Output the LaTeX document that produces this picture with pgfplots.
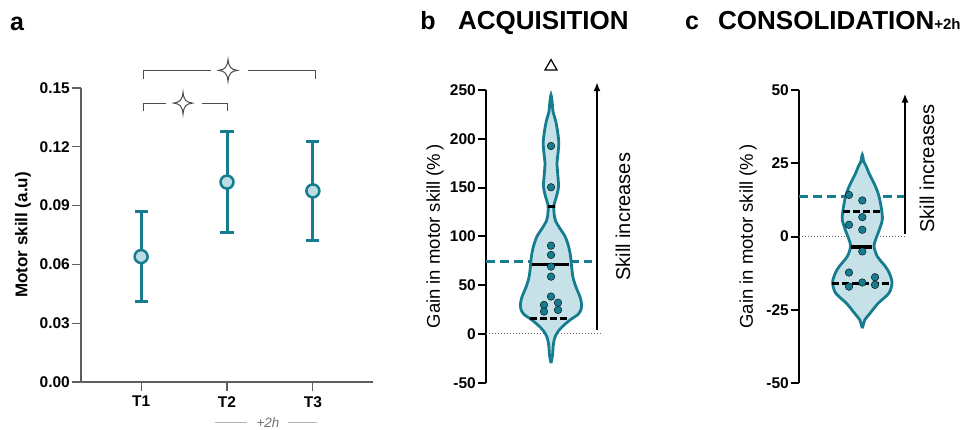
\documentclass[border=0pt]{standalone}
\usepackage{fontspec}
\setmainfont{Liberation Sans}
\usepackage{pgfplots}
\pgfplotsset{compat=1.18}
\usetikzlibrary{arrows.meta}

\definecolor{tealc}{RGB}{22,124,143}
\definecolor{tealfill}{RGB}{198,226,232}
\definecolor{markfill}{RGB}{186,220,226}
\definecolor{axgray}{RGB}{95,95,95}

% four-pointed significance star
\pgfdeclareplotmark{sparkle}{%
  \pgfpathmoveto{\pgfpoint{0pt}{11pt}}%
  \pgfpathcurveto{\pgfpoint{0.8pt}{3pt}}{\pgfpoint{3pt}{0.8pt}}{\pgfpoint{9.5pt}{0pt}}%
  \pgfpathcurveto{\pgfpoint{3pt}{-0.8pt}}{\pgfpoint{0.8pt}{-3pt}}{\pgfpoint{0pt}{-11pt}}%
  \pgfpathcurveto{\pgfpoint{-0.8pt}{-3pt}}{\pgfpoint{-3pt}{-0.8pt}}{\pgfpoint{-9.5pt}{0pt}}%
  \pgfpathcurveto{\pgfpoint{-3pt}{0.8pt}}{\pgfpoint{-0.8pt}{3pt}}{\pgfpoint{0pt}{11pt}}%
  \pgfpathclose
  \pgfusepathqfillstroke
}

\pgfplotsset{
  violinax/.style={
    scale only axis, width=120pt, clip=false,
    xmin=0, xmax=120,
    axis x line=none, axis y line=left,
    axis line style={-, line width=2pt, black},
    ytick style={line width=2pt, black},
    tick align=outside, major tick length=8pt,
    yticklabel style={font=\bfseries\fontsize{15.5}{18}\selectfont, inner sep=2pt},
    ylabel={Gain in motor skill (\%\,)},
    ylabel style={font=\fontsize{18.5}{22}\selectfont,
      at={(axis description cs:-0.425,0.5)}, anchor=center},
  },
  quart/.style={black, line width=3pt, dash pattern=on 7pt off 3pt},
  med/.style={black, line width=3.5pt},
  meanline/.style={tealc, line width=3pt, dash pattern=on 9pt off 5pt},
  dots/.style={only marks, mark=*, mark size=3.8pt, mark options={fill=tealc, draw=none}},
  violinshape/.style={smooth, tension=0.5, draw=tealc, line width=2.8pt, fill=tealfill},
  arrowup/.style={black, line width=2pt, -{Latex[length=9pt,width=7pt]}},
}

\begin{document}
\begin{tikzpicture}
\path[use as bounding box] (0pt,0pt) rectangle (969pt,-429pt);

% ---------------- panel a
\begin{axis}[
  at={(81pt,-382pt)}, anchor=south west,
  scale only axis, width=292pt, height=294pt,
  xmin=0.3, xmax=3.7, ymin=0, ymax=0.15,
  clip=false,
  axis x line=bottom, axis y line=left,
  axis line style={-, line width=1.2pt, axgray},
  tick style={line width=1.2pt, axgray},
  tick align=outside, major tick length=9pt,
  xtick={1,2,3}, xticklabels={T1,T2,T3},
  xticklabel style={yshift=-3pt},
  ytick={0,0.03,0.06,0.09,0.12,0.15},
  yticklabels={0.00,0.03,0.06,0.09,0.12,0.15},
  ticklabel style={font=\bfseries\fontsize{15.5}{18}\selectfont, inner sep=2pt},
  ylabel={Motor skill (a.u)},
  ylabel style={font=\bfseries\fontsize{17}{20}\selectfont,
    at={(axis description cs:-0.199,0.5)}, anchor=center},
]
\addplot[only marks, mark=none,
  error bars/.cd, y dir=both, y explicit,
  error bar style={line width=3pt, tealc},
  error mark options={rotate=90, mark size=6.5pt, line width=3pt, tealc}]
  coordinates {(1,0.0640) +- (0,0.0230) (2,0.1020) +- (0,0.0257) (3,0.0975) +- (0,0.0251)};
\addplot[only marks, mark=*, mark size=6.5pt,
  mark options={fill=markfill, draw=tealc, line width=2.5pt}]
  coordinates {(1,0.0640) (2,0.1020) (3,0.0975)};
% significance brackets
\addplot[black!70, line width=1pt] coordinates {(1.023,0.1546) (1.023,0.1588) (1.814,0.1588)};
\addplot[black!70, line width=1pt] coordinates {(2.245,0.1588) (3.025,0.1588) (3.025,0.1546)};
\addplot[black!70, line width=1pt] coordinates {(1.023,0.1383) (1.023,0.1423) (1.290,0.1423)};
\addplot[black!70, line width=1pt] coordinates {(1.709,0.1423) (2.000,0.1423) (2.000,0.1383)};
\addplot[only marks, mark=sparkle, mark options={fill=white, draw=black!70, line width=1pt}]
  coordinates {(2.012,0.1590) (1.488,0.1423)};
% +2h note under T2-T3
\draw[black!30, line width=1pt] (axis cs:1.86,-0.0209) -- (axis cs:2.233,-0.0209);
\draw[black!30, line width=1pt] (axis cs:2.71,-0.0209) -- (axis cs:3.048,-0.0209);
\node[text=black!55, font=\itshape\fontsize{13.5}{15}\selectfont] at (axis cs:2.477,-0.0209) {+2h};
\end{axis}

% ---------------- panel b
\begin{axis}[violinax,
  at={(486pt,-382.7pt)}, anchor=south west, height=292.7pt,
  ymin=-50, ymax=250,
  ytick={-50,0,50,100,150,200,250},
  yticklabels={-50,0,50,100,150,200,250},
]
\addplot[black!60, dotted, line width=1pt] coordinates {(0,0) (117,0)};
\addplot[meanline] coordinates {(0,74.1) (105.7,74.1)};
\addplot[violinshape] coordinates {
  (65,-30) (66.5,-22) (67.2,-12) (68.5,-5) (70.5,0) (74,5) (79,10) (85,15)
  (92,20) (95,25) (95.5,31) (94,38) (90,48) (87,58) (85.5,70) (84.5,80)
  (82.5,90) (79,100) (74,108) (69.5,116) (68,124) (68,132) (70.5,141)
  (72.5,151) (71.8,163) (71,175) (72,185) (72.8,196) (71.5,208) (69.5,219)
  (67,228) (66.3,236) (65,245)
  (63.7,236) (63,228) (60.5,219) (58.5,208) (57.2,196) (58,185) (59,175)
  (58.2,163) (57.5,151) (59.5,141) (62,132) (62,124) (60.5,116) (56,108)
  (51,100) (47.5,90) (45.5,80) (44.5,70) (43,58) (40,48) (36,38) (34.5,31)
  (35,25) (38,20) (45,15) (51,10) (56,5) (59.5,0) (61.5,-5) (62.8,-12)
  (63.5,-22) (65,-30)
};
\addplot[dots] coordinates {
  (65,192.6) (65,150.3) (65,90.5) (65,81) (65,69) (65,58.7) (65,38.3)
  (58,29.7) (72,32) (58,22.9) (72,24.6)
};
\addplot[quart] coordinates {(44,16) (83,16)};
\addplot[black, line width=3pt] coordinates {(62,131) (69,131)};
\addplot[med] coordinates {(45.7,71.4) (83.3,71.4)};
\addplot[only marks, mark=triangle, mark size=7pt,
  mark options={black, line width=1.2pt}] coordinates {(65,274)};
\addplot[arrowup] coordinates {(111,4) (111,258)};
\node[rotate=90, font=\fontsize{20}{24}\selectfont] at (axis cs:137,120) {Skill increases};
\end{axis}

% ---------------- panel c
\begin{axis}[violinax,
  at={(799pt,-383pt)}, anchor=south west, height=293pt,
  ymin=-50, ymax=50,
  ytick={-50,-25,0,25,50},
  yticklabels={-50,-25,0,25,50},
]
\addplot[black!60, dotted, line width=1pt] coordinates {(0,0) (106,0)};
\addplot[meanline] coordinates {(0,13.65) (106,13.65)};
\addplot[violinshape] coordinates {
  (63.3,-31.3) (64.8,-29.5) (65.8,-28.4) (70.8,-26.3) (79.1,-22.8) (90,-19.3)
  (93,-15.7) (90.3,-12.5) (86.3,-10.2) (78.3,-6.8) (75,-3.4) (76.6,-1.1)
  (80.3,2.3) (83.3,5.7) (82.6,9.1) (80,13.7) (76.6,17) (70,21.6) (67.3,23.9)
  (64.8,25.5) (63.3,27.9)
  (61.8,25.5) (59.3,23.9) (56.6,21.6) (50,17) (46.6,13.7) (44,9.1) (43.3,5.7)
  (46.3,2.3) (50,-1.1) (51.6,-3.4) (48.3,-6.8) (40.3,-10.2) (36.3,-12.5)
  (33.6,-15.7) (36.6,-19.3) (47.5,-22.8) (55.8,-26.3) (60.8,-28.4)
  (61.8,-29.5) (63.3,-31.3)
};
\addplot[dots] coordinates {
  (50,14.2) (63.3,12.3) (63.3,6.6) (50,4.0) (63.3,2.3) (63.3,-5.1)
  (50,-12.3) (76,-13.9) (63.3,-15.7) (76,-16.5) (50,-17.1)
};
\addplot[quart] coordinates {(44.3,8.5) (82,8.5)};
\addplot[med] coordinates {(52,-3.6) (73.3,-3.6)};
\addplot[quart] coordinates {(33.3,-15.9) (90,-15.9)};
\addplot[arrowup] coordinates {(106,0.9) (106,48.8)};
\node[rotate=90, font=\fontsize{20}{24}\selectfont] at (axis cs:128,23.2) {Skill increases};
\end{axis}

% ---------------- panel titles
\node[anchor=base, font=\bfseries\fontsize{25}{30}\selectfont] at (17pt,-30pt) {a};
\node[anchor=base, font=\bfseries\fontsize{25}{30}\selectfont] at (428pt,-29pt) {b};
\node[anchor=base west, inner sep=0pt, font=\bfseries\fontsize{26}{30}\selectfont] at (458pt,-29pt) {ACQUISITION};
\node[anchor=base, font=\bfseries\fontsize{25}{30}\selectfont] at (692pt,-29pt) {c};
\node[anchor=base west, inner sep=0pt, font=\bfseries\fontsize{26}{30}\selectfont] at (718pt,-29pt)
  {CONSOLIDATION{\fontsize{15}{18}\selectfont+2h}};
\end{tikzpicture}
\end{document}
